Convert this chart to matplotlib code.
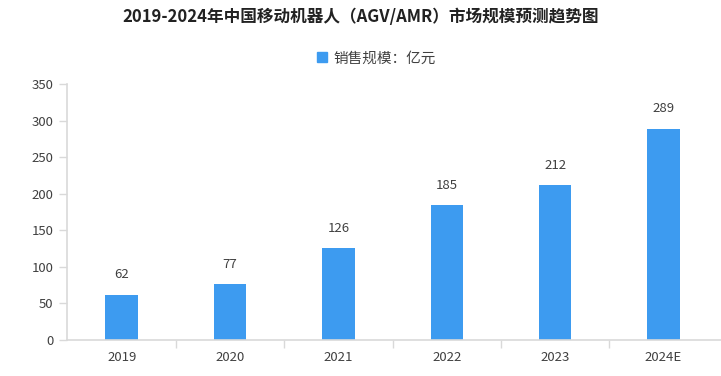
import matplotlib.pyplot as plt
from matplotlib.patches import Patch

plt.rcParams['font.family'] = ['Noto Sans CJK SC', 'DejaVu Sans']

years = ['2019', '2020', '2021', '2022', '2023', '2024E']
sales = [62, 77, 126, 185, 212, 289]
yticks = [0, 50, 100, 150, 200, 250, 300, 350]

bar_color = '#3d9bf0'
axis_color = '#d9d9d9'
text_color = '#404040'

fig = plt.figure(figsize=(7.21, 3.76), dpi=100)
ax = fig.add_axes([0.0936, 0.0957, 0.9064, 0.681])

x = list(range(len(years)))
ax.bar(x, sales, width=0.3, color=bar_color, zorder=2)
for xi, v in zip(x, sales):
    ax.text(xi, v + 18, str(v), ha='center', va='bottom', fontsize=9.5, color=text_color)

ax.set_xlim(-0.5, 5.53)
ax.set_ylim(0, 350)
ax.set_yticks(yticks)
ax.set_yticklabels([str(t) for t in yticks], fontsize=9.5, color=text_color)
ax.set_xticks(x)
ax.set_xticklabels(years, fontsize=9.5, color=text_color)
ax.set_xticks([i + 0.5 for i in range(len(years) - 1)], minor=True)
ax.tick_params(axis='x', which='major', length=0, pad=8)
ax.tick_params(axis='x', which='minor', length=6, color=axis_color, width=1)
ax.tick_params(axis='y', length=6, color=axis_color, width=1, pad=4)

for side in ['top', 'right']:
    ax.spines[side].set_visible(False)
for side in ['left', 'bottom']:
    ax.spines[side].set_color(axis_color)
    ax.spines[side].set_linewidth(1.2)

fig.text(0.5, 0.955, '2019-2024年中国移动机器人（AGV/AMR）市场规模预测趋势图',
         ha='center', va='center', fontsize=12, fontweight='bold', color='#222222')

handle = Patch(color=bar_color)
fig.legend([handle], ['销售规模：亿元'], loc='center', bbox_to_anchor=(0.522, 0.845),
           frameon=False, fontsize=10.5, handlelength=0.7, handleheight=0.7,
           handletextpad=0.4, labelcolor=text_color)

fig.savefig('out.png', dpi=100)
